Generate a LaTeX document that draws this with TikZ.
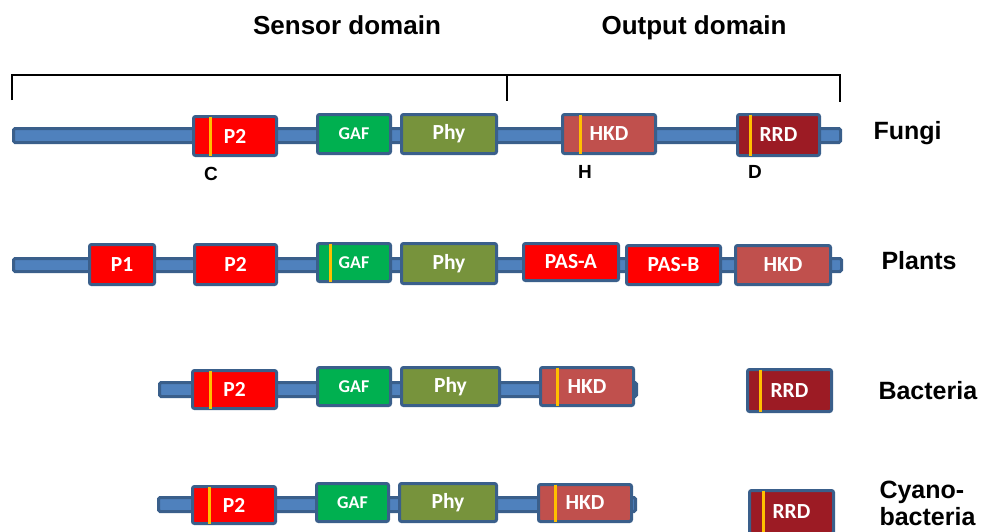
\documentclass[tikz,border=0pt]{standalone}
\usepackage{fontspec}
\setmainfont{Liberation Sans}
\newfontfamily\boxfont{Carlito}
\usetikzlibrary{positioning}
\definecolor{barblue}{HTML}{4F81BD}
\definecolor{edgeblue}{HTML}{3A5F8B}
\definecolor{pasred}{HTML}{FF0000}
\definecolor{gafgreen}{HTML}{00B050}
\definecolor{phyolive}{HTML}{77933C}
\definecolor{hkdred}{HTML}{C0504D}
\definecolor{rrdred}{HTML}{9C1B24}
\definecolor{siteorange}{HTML}{FFC000}
\tikzset{
    backbone/.style={draw=edgeblue, fill=barblue, line width=3pt, rounded corners=1.5pt},
    dombox/.style n args={3}{draw=edgeblue, fill=#1, line width=3pt, rounded corners=2pt,
        minimum width=#2, minimum height=#3, inner sep=0pt, text=white,
        font=\boxfont\bfseries\fontsize{21.5}{22}\selectfont},
    smalltext/.style={font=\boxfont\bfseries\fontsize{18}{18}\selectfont},
    site/.style={draw=siteorange, line width=3pt, shorten <=1.5pt, shorten >=1.5pt},
    bracket/.style={draw=black, line width=2pt},
    headlabel/.style={font=\bfseries\fontsize{26}{28}\selectfont},
    rowlabel/.style={font=\bfseries\fontsize{25}{27}\selectfont, anchor=west, align=left},
    sitelabel/.style={font=\bfseries\fontsize{19}{20}\selectfont}
}
\begin{document}
\begin{tikzpicture}[x=1pt, y=-1pt]
    \useasboundingbox (0,0) rectangle (986,531);
    % headers and bracket
    \node[headlabel] (sensor) at (347,25) {Sensor domain};
    \node[headlabel] (output) at (694,28) {Output domain};
    \coordinate (br-l) at (12,100);
    \coordinate (br-r) at (840,102);
    \coordinate (br-mt) at (507,75);
    \coordinate (br-mb) at (507,101);
    \draw[bracket] (br-l) |- (br-r |- br-mt) -- (br-r);
    \draw[bracket] (br-mt) -- (br-mb);
    % fungi
    \coordinate (f-s) at (13.5,128.5);
    \coordinate (f-e) at (840.5,142.5);
    \draw[backbone] (f-s) rectangle (f-e);
    \node[dombox={pasred}{83pt}{39pt}] (f-p2) at (235,136) {P2};
    \node[dombox={gafgreen}{73pt}{39pt}, smalltext] (f-gaf) at (354,134) {GAF};
    \node[dombox={phyolive}{95pt}{39pt}] (f-phy) at (449,134) {Phy};
    \node[dombox={hkdred}{93pt}{39pt}] (f-hkd) at (609,134) {HKD};
    \node[dombox={rrdred}{82pt}{41pt}] (f-rrd) at (778.5,135) {RRD};
    \draw[site] ([xshift=18.5pt]f-p2.north west) -- ([xshift=18.5pt]f-p2.south west);
    \draw[site] ([xshift=19.5pt]f-hkd.north west) -- ([xshift=19.5pt]f-hkd.south west);
    \draw[site] ([xshift=14.5pt]f-rrd.north west) -- ([xshift=14.5pt]f-rrd.south west);
    \node[sitelabel] (f-c) at (211,174) {C};
    \node[sitelabel] (f-h) at (585,172) {H};
    \node[sitelabel] (f-d) at (755,172) {D};
    \node[rowlabel] (fungi) at (870,133) {Fungi};
    % plants
    \coordinate (p-s) at (13.5,258.5);
    \coordinate (p-e) at (841.5,271.5);
    \draw[backbone] (p-s) rectangle (p-e);
    \node[dombox={pasred}{65pt}{40pt}] (p-p1) at (122,264.5) {P1};
    \node[dombox={pasred}{82pt}{40pt}] (p-p2) at (235.5,264.5) {P2};
    \node[dombox={gafgreen}{73pt}{38pt}, smalltext] (p-gaf) at (354,262.5) {GAF};
    \node[dombox={phyolive}{95pt}{40pt}] (p-phy) at (449,263.5) {Phy};
    \node[dombox={pasred}{95pt}{37pt}] (p-pasa) at (571,262) {PAS-A};
    \node[dombox={pasred}{94pt}{39pt}] (p-pasb) at (673.5,265) {PAS-B};
    \node[dombox={hkdred}{95pt}{39pt}] (p-hkd) at (783,265) {HKD};
    \draw[site] ([xshift=14.5pt]p-gaf.north west) -- ([xshift=14.5pt]p-gaf.south west);
    \node[rowlabel] (plants) at (878,261) {Plants};
    % bacteria
    \coordinate (b-s) at (159.5,382.5);
    \coordinate (b-e) at (636.5,396.5);
    \draw[backbone] (b-s) rectangle (b-e);
    \node[dombox={pasred}{84pt}{38pt}] (b-p2) at (234.5,389.5) {P2};
    \node[dombox={gafgreen}{73pt}{38pt}, smalltext] (b-gaf) at (354,386.5) {GAF};
    \node[dombox={phyolive}{98pt}{38pt}] (b-phy) at (450.5,386.5) {Phy};
    \node[dombox={hkdred}{93pt}{38pt}] (b-hkd) at (587,386.5) {HKD};
    \node[dombox={rrdred}{84pt}{42pt}] (b-rrd) at (789.5,390.5) {RRD};
    \draw[site] ([xshift=19.5pt]b-p2.north west) -- ([xshift=19.5pt]b-p2.south west);
    \draw[site] ([xshift=18.5pt]b-hkd.north west) -- ([xshift=18.5pt]b-hkd.south west);
    \draw[site] ([xshift=14.5pt]b-rrd.north west) -- ([xshift=14.5pt]b-rrd.south west);
    \node[rowlabel] (bacteria) at (875,391) {Bacteria};
    % cyanobacteria
    \coordinate (c-s) at (158.5,497.5);
    \coordinate (c-e) at (635.5,511.5);
    \draw[backbone] (c-s) rectangle (c-e);
    \node[dombox={pasred}{83pt}{37pt}] (c-p2) at (234,505) {P2};
    \node[dombox={gafgreen}{72pt}{38pt}, smalltext] (c-gaf) at (352.5,502.5) {GAF};
    \node[dombox={phyolive}{97pt}{38pt}] (c-phy) at (448,502.5) {Phy};
    \node[dombox={hkdred}{93pt}{37pt}] (c-hkd) at (585,503) {HKD};
    \node[dombox={rrdred}{84pt}{43pt}] (c-rrd) at (791.5,512) {RRD};
    \draw[site] ([xshift=18.5pt]c-p2.north west) -- ([xshift=18.5pt]c-p2.south west);
    \draw[site] ([xshift=18.5pt]c-hkd.north west) -- ([xshift=18.5pt]c-hkd.south west);
    \draw[site] ([xshift=15.5pt]c-rrd.north west) -- ([xshift=15.5pt]c-rrd.south west);
    \node[rowlabel] (cyano) at (876,503) {Cyano-\\bacteria};
\end{tikzpicture}
\end{document}
